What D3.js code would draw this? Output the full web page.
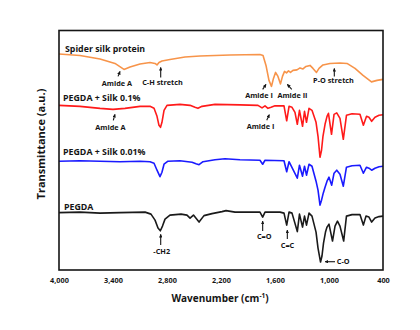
<!DOCTYPE html>
<html>
<head>
<meta charset="utf-8">
<script src="https://cdn.jsdelivr.net/npm/d3@7"></script>
<style>
  html, body { margin: 0; padding: 0; background: #fff; }
  svg { display: block; }
  text { font-family: "Open Sans", "DejaVu Sans", sans-serif; fill: #151515; }
</style>
</head>
<body>
<div id="chart"></div>
<script>
// ---------- DATA ----------
const xTicks = [4000, 3400, 2800, 2200, 1600, 1000, 400];
const seriesNames = ["Spider silk protein", "PEGDA + Silk 0.1%", "PEGDA + Silk 0.01%", "PEGDA"];

// Spider silk protein (wavenumber cm-1, offset transmittance a.u.)
const silkWave = [4000,3767,3544,3378,3278,3211,3100,2989,2933,2911,2889,2856,2767,2600,2433,2100,1767,1733,1700,1667,1639,1617,1594,1567,1539,1517,1494,1472,1450,1428,1400,1356,1322,1289,1256,1211,1178,1139,1111,1067,989,878,800,711,622,528,467,400];
const silkVal  = [216.5,215,211.5,207,201,203.5,206.5,208,207,205.5,208,209.5,211,213.5,214.5,215.5,216,215,205,190,184,192,198,194,186.5,194,199,197.5,199.5,198,200,200.5,202.5,201.5,204,205,202,198,202,205.5,207,207.5,207,202,195,188.5,190,191];

// PEGDA + Silk 0.1%
const s01Wave = [4000,3767,3544,3400,3267,3100,2989,2944,2911,2889,2872,2856,2833,2800,2656,2544,2489,2456,2411,2267,1989,1789,1744,1711,1678,1644,1600,1500,1470,1444,1411,1378,1352,1328,1294,1272,1250,1222,1189,1144,1122,1100,1083,1067,1044,1022,1006,972,944,914,878,841,806,744,656,618,583,556,526,489,444,400];
const s01Val  = [165,164,162,161,162,164,164,162,154,145,143,148,160,165,166,165,163,162,164,166,165.5,165,162.5,164.5,162,163,164.5,164.5,149.5,164,163,158,146,160,144,159,148,162,160,148,134,113,120,134,146,154,157,136,156,157.5,152,131,155,156.5,156,145,154,153,149,153,155,155.5];

// PEGDA + Silk 0.01%
const s001Wave = [4000,3767,3544,3322,3100,2989,2944,2911,2878,2856,2833,2789,2656,2522,2478,2444,2400,2267,2156,1989,1767,1737,1711,1500,1470,1444,1352,1328,1294,1272,1250,1222,1189,1144,1122,1100,1083,1064,1044,1022,1000,970,944,914,878,841,806,744,656,618,583,556,526,489,444,400];
const s001Val  = [109,109.5,109,108.5,109,108.5,107,100,93.5,98,106,109,109.5,108,106.5,105.5,108.5,110.5,111.5,110.5,110,106,110,109.5,98.5,108.5,92,105,94,104,95,106,104,89,80,65,70,77,83,89,93,85,97,100,96,84,103,104.5,105,97,103,102,100,102,103.5,104];

// PEGDA
const pegWave = [4000,3767,3544,3322,3044,2978,2933,2900,2874,2850,2822,2767,2644,2578,2544,2506,2444,2389,2300,2189,2144,2044,1878,1767,1737,1711,1544,1500,1470,1444,1411,1352,1328,1294,1272,1250,1222,1189,1144,1122,1094,1078,1061,1039,1022,1000,961,933,906,878,837,806,744,656,618,589,556,526,489,444,400];
const pegVal  = [57.5,58,57,57.5,58,56,50,42,39.3,44,51,55,56,55,52,55,48,54.5,56.5,58.5,59.5,58,58,58,53,58,58,57,45,58,57,38.5,56,43,54,45,57,54,38,22,8,14,27,38,43,46,29,44,49,44,29,54,55.5,55.5,45,54,53,48,52,53.5,54];

// ---------- LAYOUT ----------
const W = 420, H = 330;
const mLeft = 59, mRight = 383, mTop = 30.5, mBottom = 270;

const x = d3.scaleLinear().domain([4000, 400]).range([mLeft, mRight]);
const y = d3.scaleLinear().domain([0, 240]).range([mBottom, mTop]);

const svg = d3.select("#chart").append("svg")
  .attr("width", W).attr("height", H);

const defs = svg.append("defs");
defs.append("marker")
  .attr("id", "ah").attr("viewBox", "0 0 10 10")
  .attr("refX", 9).attr("refY", 5)
  .attr("markerWidth", 3.2).attr("markerHeight", 3.2)
  .attr("orient", "auto-start-reverse")
  .append("path").attr("d", "M0,0 L10,5 L0,10 z").attr("fill", "#151515");

// series
const series = [
  {name: seriesNames[0], w: silkWave, v: silkVal, color: "#F7944A", lx: 3933, ly: 222},
  {name: seriesNames[1], w: s01Wave, v: s01Val, color: "#FF1A1A", lx: 3955, ly: 172},
  {name: seriesNames[2], w: s001Wave, v: s001Val, color: "#1A1AFF", lx: 3955, ly: 118.3},
  {name: seriesNames[3], w: pegWave, v: pegVal, color: "#1a1a1a", lx: 3944, ly: 63.3}
];

const line = d3.line().x(d => x(d[0])).y(d => y(d[1]));

series.forEach(s => {
  const pts = s.w.map((w, i) => [w, s.v[i]]);
  svg.append("path").datum(pts)
    .attr("d", line)
    .attr("fill", "none")
    .attr("stroke", s.color)
    .attr("stroke-width", 1.6)
    .attr("stroke-linejoin", "round");
  svg.append("text")
    .attr("x", x(s.lx)).attr("y", y(s.ly))
    .attr("dy", "0.35em")
    .attr("font-size", 8.8).attr("font-weight", 700)
    .text(s.name);
});

// annotations: text position and arrow (wavenumber, value)
const annotations = [
  {t: "Amide A", tx: 3356, ty: 187, a: [[3344,194],[3322,199]]},
  {t: "C-H stretch", tx: 2850, ty: 188, a: [[2870,193],[2870,203]]},
  {t: "Amide I", tx: 1778, ty: 175, a: [[1737,181],[1700,186]]},
  {t: "Amide II", tx: 1406, ty: 175, a: [[1414,181],[1463,186]]},
  {t: "P-O stretch", tx: 950, ty: 190, a: [[941,194],[941,202]]},
  {t: "Amide A", tx: 3428, ty: 143, a: [[3397,150],[3378,156]]},
  {t: "Amide I", tx: 1761, ty: 144, a: [[1692,150],[1663,155.7]]},
  {t: "-CH2", tx: 2859, ty: 18.3, a: [[2870,25],[2870,35.7]]},
  {t: "C=O", tx: 1720, ty: 33.3, a: [[1737,39],[1737,49]]},
  {t: "C=C", tx: 1461, ty: 24.3, a: [[1463,31],[1463,40]]},
  {t: "C-O", tx: 914, ty: 8.3, anchor: "start", a: [[933,8.3],[1044,8.3]]}
];

annotations.forEach(a => {
  svg.append("line")
    .attr("x1", x(a.a[0][0])).attr("y1", y(a.a[0][1]))
    .attr("x2", x(a.a[1][0])).attr("y2", y(a.a[1][1]))
    .attr("stroke", "#151515").attr("stroke-width", 1.1)
    .attr("marker-end", "url(#ah)");
  svg.append("text")
    .attr("x", x(a.tx)).attr("y", y(a.ty))
    .attr("dy", "0.35em")
    .attr("text-anchor", a.anchor || "middle")
    .attr("font-size", 7.3).attr("font-weight", 700)
    .text(a.t);
});

// frame
svg.append("rect")
  .attr("x", mLeft).attr("y", mTop)
  .attr("width", mRight - mLeft).attr("height", mBottom - mTop)
  .attr("fill", "none").attr("stroke", "#151515").attr("stroke-width", 1.6);

// x axis
const xAxis = d3.axisBottom(x).tickValues(xTicks).tickSize(0).tickPadding(8)
  .tickFormat(d3.format(","));
const gx = svg.append("g").attr("transform", `translate(0,${mBottom})`).call(xAxis);
gx.select(".domain").remove();
gx.selectAll("text")
  .attr("font-size", 7.3).attr("font-weight", 700)
  .style("font-family", "'Open Sans', sans-serif").attr("fill", "#151515");

// axis titles
const xt = svg.append("text")
  .attr("x", 220).attr("y", 298).attr("dy", "0.35em")
  .attr("text-anchor", "middle")
  .attr("font-size", 10).attr("font-weight", 700);
xt.append("tspan").text("Wavenumber (cm");
xt.append("tspan").text("-1").attr("font-size", 6.5).attr("dy", "-4");
xt.append("tspan").text(")").attr("dy", "4");

svg.append("text")
  .attr("transform", "translate(41,144) rotate(-90)")
  .attr("dy", "0.35em")
  .attr("text-anchor", "middle")
  .attr("font-size", 11).attr("font-weight", 700)
  .text("Transmittance (a.u.)");
</script>
</body>
</html>
